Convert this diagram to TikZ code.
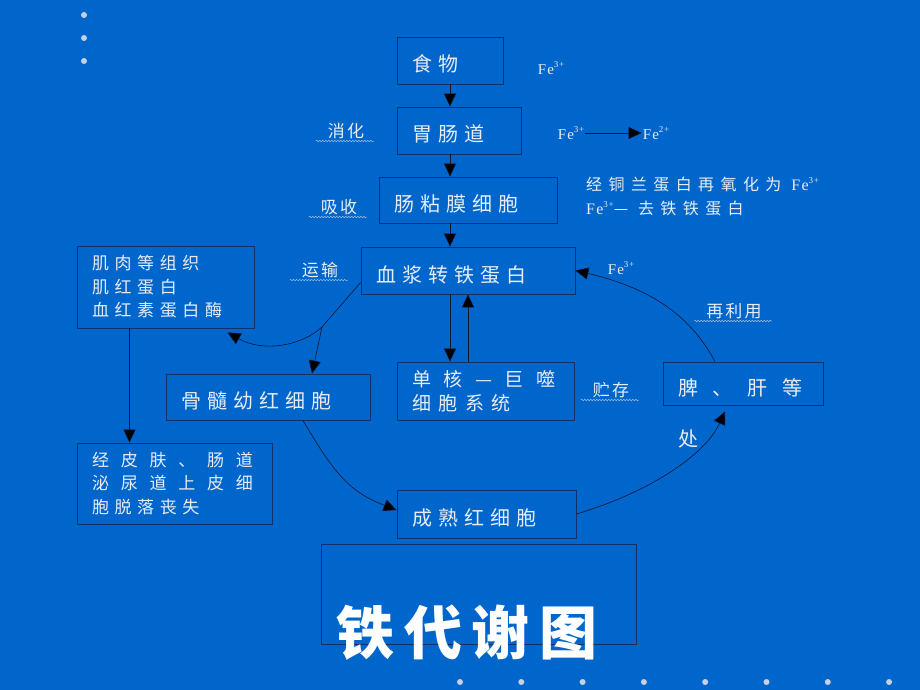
\documentclass[tikz,border=0pt]{standalone}
\usepackage{fontspec}
\setmainfont{Liberation Serif}
\newfontfamily\cjk{Noto Sans CJK SC}
\usetikzlibrary{arrows.meta,decorations.pathmorphing}
\definecolor{slide}{HTML}{0066CC}
\definecolor{frame}{HTML}{14306A}
\definecolor{ink}{HTML}{E8ECF4}
\definecolor{wire}{HTML}{0A1630}
\definecolor{dotc}{HTML}{C6D0E2}
\newcommand{\fe}[1]{{\rmfamily\addfontfeature{LetterSpace=8}Fe\raisebox{0.45em}{\fontsize{9}{9}\selectfont #1}}}

\tikzset{
  box/.style={draw=frame,line width=0.8pt,fill=slide,text=ink,inner xsep=15pt,inner ysep=0pt,align=left,
    font=\cjk\fontsize{20}{24}\selectfont\addfontfeature{LetterSpace=30}},
  one/.style={text height=23pt,text depth=0pt},
  boxs/.style={box,font=\cjk\fontsize{17}{23.5}\selectfont\addfontfeature{LetterSpace=33}},
  lbl/.style={text=ink,inner sep=2pt,font=\cjk\fontsize{17}{20}\selectfont\addfontfeature{LetterSpace=12}},
  fe/.style={text=ink,inner sep=1pt,font=\fontsize{15}{18}\selectfont},
  note/.style={text=ink,align=left,inner sep=0pt,font=\cjk\fontsize{16}{24}\selectfont\addfontfeature{LetterSpace=40}},
  wavy/.style={draw=dotc!80!slide,line width=0.5pt,decorate,decoration={snake,amplitude=0.7pt,segment length=3pt}},
  wire/.style={draw=wire,line width=0.6pt},
  arr/.style={wire,-{Triangle[length=13pt,width=12pt,fill=black]}}
}

\begin{document}
\begin{tikzpicture}[x=1pt,y=-1pt]
    %BACKGROUND
    \fill[slide] (0,0) rectangle (920,690);
    \useasboundingbox (0,0) rectangle (920,690);

    %DOTS
    \foreach \y in {15,38,61} \fill[dotc] (84,\y) circle (3pt);
    \foreach \i in {0,...,7} \fill[dotc] (460+61.3*\i,682) circle (3pt);

    %BOXES
    \node[box,one,text width=76pt,minimum height=47pt] (food) at (450,60.5) {食物};
    \node[box,one,text width=94pt,minimum height=47pt] (gut) at (459,130.5) {胃肠道};
    \node[box,one,text width=148pt,minimum height=46pt] (mucosa) at (468,200) {肠粘膜细胞};
    \node[box,one,text width=184pt,minimum height=47pt] (plasma) at (468,270.5) {血浆转铁蛋白};
    \node[boxs,text width=147pt,minimum height=82pt] (tissue) at (165.5,287) {肌肉等组织\\肌红蛋白\\血红素蛋白酶};
    \node[box,one,text width=174pt,minimum height=46pt] (marrow) at (268,397) {骨髓幼红细胞};
    \node[box,font=\cjk\fontsize{19}{24}\selectfont\addfontfeature{LetterSpace=40},text width=147pt,minimum height=58pt] (mps) at (485.5,391) {\makebox[143pt][l]{单\hfill 核\hfill —\hfill 巨\hfill 噬}\\细胞系统};
    \node[box,one,text width=130pt,minimum height=43pt] (spleen) at (743,383.5) {\makebox[124pt][l]{脾\hfill 、\hfill 肝\hfill 等}};
    \node[boxs,text width=165pt,minimum height=81pt] (loss) at (174.5,483.5) {\makebox[161pt][l]{经\hfill 皮\hfill 肤\hfill 、\hfill 肠\hfill 道}\\\makebox[161pt][l]{泌\hfill 尿\hfill 道\hfill 上\hfill 皮\hfill 细}\\胞脱落丧失};
    \node[box,one,text width=149pt,minimum height=48pt] (rbc) at (486.5,514) {成熟红细胞};
    \node[box,minimum width=315pt,minimum height=100pt] (frame) at (478.5,594) {};
    \node[text=white,font=\cjk\bfseries\fontsize{58}{60}\selectfont\addfontfeature{LetterSpace=17}] (title) at (467,633) {铁代谢图};

    %LABELS
    \node[fe] (fea) at (551,68) {\fe{3+}};
    \node[fe] (feb) at (571,133) {\fe{3+}};
    \node[fe] (fec) at (656,133) {\fe{2+}};
    \node[fe] (fed) at (621,268) {\fe{3+}};
    \node[note,anchor=north west] (ann) at (586,177) {经铜兰蛋白再氧化为 \fe{3+}\\\fe{3+}— 去铁铁蛋白};
    \node[lbl] (dig) at (346,131) {消化};
    \node[lbl] (abs) at (339,207) {吸收};
    \node[lbl] (tra) at (320,270) {运输};
    \node[lbl] (sto) at (611,390) {贮存};
    \node[lbl] (reu) at (734,311) {再利用};
    \node[lbl,font=\cjk\fontsize{20}{24}\selectfont] (chu) at (688,439) {处};
    \foreach \n in {dig,abs,tra,sto,reu}
        \draw[wavy] ([xshift=-10pt]\n.south west) -- ([xshift=8pt]\n.south east);

    %ARROWS
    \draw[arr] (food) -- (food |- gut.north);
    \draw[arr] ([xshift=-9pt]gut.south) -- ([xshift=-9pt]gut.south |- mucosa.north);
    \draw[arr] ([xshift=-18pt]mucosa.south) -- ([xshift=-18pt]mucosa.south |- plasma.north);
    \draw[arr] ([xshift=-18pt]plasma.south) -- ([xshift=-18pt]plasma.south |- mps.north);
    \draw[arr] (plasma.south |- mps.north) -- (plasma.south);
    \draw[arr] (feb) -- (fec);
    \coordinate (split) at (322,327);
    \draw[wire] ([yshift=-12pt]plasma.west) -- (split);
    \draw[arr] (split) -- ([xshift=44pt]marrow.north);
    \draw[arr] (split) .. controls (300,347) and (262,352) .. ([xshift=62pt,yshift=-4pt]tissue.south);
    \draw[arr] ([xshift=-36pt]tissue.south) -- ([xshift=-36pt]tissue.south |- loss.north);
    \draw[arr] ([xshift=35pt]marrow.south) .. controls (335,475) and (350,492) .. ([yshift=4pt]rbc.west);
    \draw[arr] (rbc.east) .. controls (650,492) and (705,455) .. ([xshift=-18pt,yshift=-6pt]spleen.south);
    \draw[arr] ([xshift=-28pt]spleen.north) .. controls (690,315) and (650,288) .. (plasma.east);
\end{tikzpicture}
\end{document}
